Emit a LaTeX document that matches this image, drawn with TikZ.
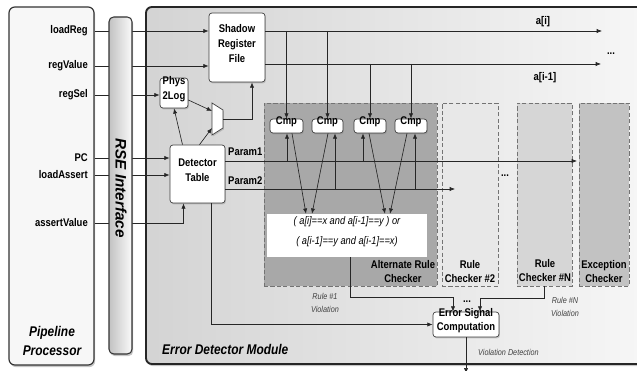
\documentclass[tikz,border=0pt]{standalone}
\usepackage{fontspec}
\setmainfont{Liberation Sans}
\newfontfamily\narrowsans{Liberation Sans}[FakeStretch=0.85]
\usetikzlibrary{fit,shadows,arrows.meta,calc}

\newcommand\sigfont{\narrowsans\bfseries\fontsize{9.5}{12.5}\selectfont}
\newcommand\zonefont{\narrowsans\bfseries\fontsize{9.5}{12}\selectfont}
\newcommand\notefont{\narrowsans\itshape\fontsize{7.3}{10.5}\selectfont}
\newcommand\exprfont{\narrowsans\itshape\fontsize{9.3}{17}\selectfont}
\newcommand\titlefont{\narrowsans\bfseries\itshape\fontsize{12}{15.5}\selectfont}
\newcommand\barfont{\bfseries\itshape\fontsize{13}{15}\selectfont}

\tikzset{
  wire/.style={line width=0.55pt, draw=black!85},
  arr/.style={wire, -{Latex[length=4.5pt,width=3.6pt]}},
  blk/.style={draw=black!75, line width=0.6pt, fill=white, rounded corners=2.5pt,
    inner sep=0pt, align=center, font=\sigfont,
    drop shadow={opacity=0.35, shadow xshift=0.8pt, shadow yshift=-1.2pt}},
  sig/.style={font=\sigfont, inner sep=0pt},
  note/.style={font=\notefont, text=black!75, align=center, inner sep=0pt},
  zone/.style={draw=black!55, line width=0.6pt, dash pattern=on 3.5pt off 2pt, inner sep=0pt},
  zonelbl/.style={font=\zonefont, align=center, inner sep=0pt, anchor=south},
  frame/.style={line width=1pt, draw=black!80, rounded corners=5pt, inner sep=0pt,
    drop shadow={opacity=0.45, shadow xshift=1pt, shadow yshift=-1.8pt}},
}

\begin{document}
\begin{tikzpicture}[x=0.03cm, y=-0.03cm]
\useasboundingbox (0,0) rectangle (637,371);
\clip (0,0) rectangle (637,371);

% outer modules
\node[frame, line width=1.6pt, draw=black!85, left color=black!17, right color=black!3,
  fit={(146,7) (660,364)}] (mod) {};
\node[frame, fill=black!3, fit={(9,7) (94,365)}] (proc) {};

\node[font=\titlefont, align=center] (procLbl) at (52,341) {Pipeline\\Processor};
\node[font=\titlefont, anchor=west, inner sep=0pt] (modLbl) at (162,349) {Error Detector Module};

% rule checker zones
\node[zone, fill=black!34, fit={(264,103) (437,286)}] (arc) {};
\node[zone, fill=black!9,  fit={(442,103) (498,286)}] (rc2) {};
\node[zone, fill=black!16, fit={(517,103) (572,286)}] (rcN) {};
\node[zone, fill=black!24, fit={(579,103) (629,286)}] (exc) {};

\node[zonelbl] (arcLbl) at (403,283) {Alternate Rule\\Checker};
\node[zonelbl] (rc2Lbl) at (470,283) {Rule\\Checker \#2};
\node[zonelbl] (rcNLbl) at (545,282) {Rule\\Checker \#N};
\node[zonelbl] (excLbl) at (604,283) {Exception\\Checker};
\node[sig] (zoneDots) at (505,176) {...};

% rule expression
\node[fill=white, inner sep=0pt, font=\exprfont, align=center,
  fit={(267,214) (427,257)}] (formula) {( a[i]==x and a[i-1]==y ) or\\( a[i-1]==y and a[i-1]==x)};

% blocks
\node[blk, fit={(209,13) (265,82)}] (srf) {Shadow\\Register\\File};
\node[blk, fit={(160,78) (188,108)}] (p2l) {Phys\\2Log};
\node[blk, fit={(170,145) (225,203)}] (dt) {Detector\\Table};
\node[blk, fit={(270,119) (303,133)}] (cmp1) {Cmp};
\node[blk, fit={(312,119) (343,133)}] (cmp2) {Cmp};
\node[blk, fit={(354,119) (386,133)}] (cmp3) {Cmp};
\node[blk, fit={(395,119) (427,133)}] (cmp4) {Cmp};
\node[blk, fit={(433,312) (499,337)}] (esc) {Error Signal\\Computation};

% multiplexer
\coordinate (muxA) at (212,103);
\coordinate (muxB) at (223,110);
\coordinate (muxC) at (223,128);
\coordinate (muxD) at (212,135);
\coordinate (muxIn1) at (212,111);
\coordinate (muxIn2) at (212,128);
\coordinate (muxOut) at (223,119);
\draw[fill=white, draw=black!75, line width=0.6pt,
  drop shadow={opacity=0.35, shadow xshift=0.8pt, shadow yshift=-1.2pt}]
  (muxA) -- (muxB) -- (muxC) -- (muxD) -- cycle;

% processor signals
\node[sig, anchor=east] (sLoadReg) at (88,31) {loadReg};
\node[sig, anchor=east] (sRegValue) at (88,66) {regValue};
\node[sig, anchor=east] (sRegSel) at (88,95) {regSel};
\node[sig, anchor=east] (sPC) at (88,158) {PC};
\node[sig, anchor=east] (sLoadAssert) at (88,175) {loadAssert};
\node[sig, anchor=east] (sAssertValue) at (88,223) {assertValue};

\draw[arr] (proc.east |- sLoadReg) -- (srf.west |- sLoadReg);
\draw[arr] (proc.east |- sRegValue) -- (srf.west |- sRegValue);
\draw[arr] (proc.east |- sRegSel) -- (p2l.west |- sRegSel);
\draw[arr] (proc.east |- sPC) -- (dt.west |- sPC);
\draw[arr] (proc.east |- sLoadAssert) -- (dt.west |- sLoadAssert);
\draw[arr] (proc.east |- sAssertValue) -| ($(dt.south)+(-14,0)$);

% interface bar
\node[frame, line width=0.9pt, rounded corners=4pt, left color=black!24, right color=black!2,
  fit={(109,17) (132,354)}] (rse) {};
\node[font=\barfont, rotate=-90] (rseLbl) at (121,188) {RSE Interface};

% lookup and mux
\draw[arr] ($(dt.north)+(-15,0)$) -- (p2l.south);
\draw[arr] ($(p2l.east)+(0,7)$) -- (muxIn1);
\draw[arr] ($(dt.north)+(2,0)$) -- (muxIn2);
\draw[arr] (muxOut) -| ($(srf.south)+(15,0)$);

% register values
\coordinate (aiEnd) at (602,31);
\coordinate (ai1End) at (601,64);
\draw[arr] (srf.east |- aiEnd) -- (aiEnd);
\draw[arr] (srf.east |- ai1End) -- (ai1End);
\node[sig] (aiLbl) at (543,22) {a[i]};
\node[sig] (ai1Lbl) at (545,78) {a[i-1]};
\node[sig] (aiDots) at (611,54) {...};

\draw[arr] (cmp1.north |- aiEnd) -- (cmp1.north);
\draw[arr] (cmp2.north |- aiEnd) -- (cmp2.north);
\draw[arr] (cmp3.north |- ai1End) -- (cmp3.north);
\draw[arr] (cmp4.north |- ai1End) -- (cmp4.north);

% parameters
\coordinate (p1End) at (577,161);
\coordinate (p2End) at (455,189);
\draw[arr] (dt.east |- p1End) -- (p1End);
\draw[arr] (dt.east |- p2End) -- (p2End);
\node[sig, anchor=west] (p1Lbl) at (228,152) {Param1};
\node[sig, anchor=west] (p2Lbl) at (228,181) {Param2};

\coordinate (c1in) at ($(cmp1.south)+(0.5,0)$);
\coordinate (c2in) at ($(cmp2.south)+(7.5,0)$);
\coordinate (c3in) at ($(cmp3.south)+(-7,0)$);
\coordinate (c4in) at ($(cmp4.south)+(4,0)$);
\draw[arr] (c1in |- p1End) -- (c1in);
\draw[arr] (c2in |- p2End) -- (c2in);
\draw[arr] (c3in |- p1End) -- (c3in);
\draw[arr] (c4in |- p2End) -- (c4in);

% comparator results
\draw[arr] ($(cmp1.south)+(5.5,0)$) -- ($(formula.north)+(-41,0)$);
\draw[arr] ($(cmp2.south)+(0.5,0)$) -- ($(formula.north)+(-35,0)$);
\draw[arr] ($(cmp3.south)+(-1,0)$) -- ($(formula.north)+(38,0)$);
\draw[arr] ($(cmp4.south)+(-4,0)$) -- ($(formula.north)+(43,0)$);

% violations
\draw[arr] ($(formula.south)+(3,0)$) -- ++(0,40) -| ($(esc.north)+(-13,0)$);
\draw[arr] (rcN.south) -- ++(0,12) -| ($(esc.north)+(14,0)$);
\draw[arr] ($(dt.south)+(14,0)$) |- (esc.west);
\draw[arr] (esc.south) -- ++(0,36);
\node[sig] (escDots) at (467,302) {...};

\node[note] (r1v) at (325,303) {Rule \#1\\Violation};
\node[note] (rNv) at (565,307) {Rule \#N\\Violation};
\node[note, anchor=west] (vd) at (478,352) {Violation Detection};
\end{tikzpicture}
\end{document}
